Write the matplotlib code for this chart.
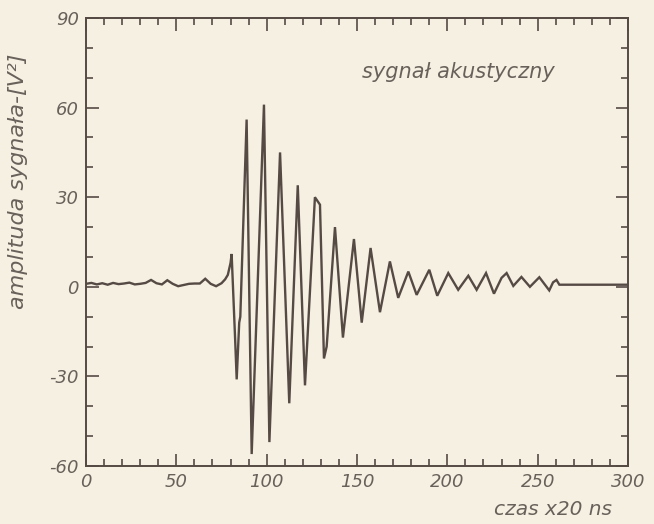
import matplotlib
matplotlib.use("Agg")
import matplotlib.pyplot as plt
import numpy as np

plt.rcParams['axes.unicode_minus'] = False

# odczyt z wykresu: czas (x20 ns) i amplituda [V^2]
czas = [0, 3, 6, 9, 12, 15, 18, 21, 24, 27, 30, 33, 36, 39, 42, 45, 48, 51, 54,
        57, 60, 63, 66, 69, 72, 75, 77, 78.5, 80, 80.6,
        82.5, 83.4, 84.8, 85.4, 88.9, 91.7, 98.5, 101.5, 107.4, 112.5, 117.2,
        121.2, 126.7, 129.5, 131.7, 133.2, 137.8, 142.2, 148.3, 152.6, 157.5,
        162.7, 168.2, 172.8, 178.4, 183, 190, 194.4, 200.5, 206, 211.6, 216.2,
        221.4, 225.8, 230, 232.8, 236.5, 241, 245.7, 250.9, 256.4, 258.5,
        260.4, 262, 300]
amplituda = [1, 1.3, 0.8, 1.2, 0.7, 1.3, 0.9, 1.1, 1.4, 0.8, 1.0, 1.3, 2.3, 1.2,
             0.8, 2.2, 1.0, 0.2, 0.6, 1.0, 1.1, 1.1, 2.7, 1.0, 0.2, 1.2, 2.5, 4,
             8, 11,
             -17, -31, -12, -10, 56, -56, 61, -52, 45, -39, 34,
             -33, 30, 27.5, -24, -20, 20, -17, 16, -12, 13,
             -8.5, 8.5, -3.7, 5.1, -2.7, 5.7, -3, 4.6, -1, 3.7, -1,
             4.6, -2.3, 3, 4.6, 0.3, 3.3, 0, 3.2, -1.2, 1.5,
             2.3, 0.7, 0.7]

xticks = [0, 50, 100, 150, 200, 250, 300]
yticks = [-60, -30, 0, 30, 60, 90]

tlo = '#f5f0e1'
kolor = '#564a45'
tekst = '#68615b'

fig = plt.figure(figsize=(6.54, 5.24), dpi=100, facecolor=tlo)
ax = fig.add_axes([0.1315, 0.1107, 0.8288, 0.8549])
ax.set_facecolor(tlo)

ax.plot(czas, amplituda, color=kolor, lw=1.7, solid_joinstyle='miter')

ax.set_xlim(0, 300)
ax.set_ylim(-60, 90)
ax.set_xticks(xticks)
ax.set_yticks(yticks)
ax.set_xticks(np.arange(0, 301, 10), minor=True)
ax.set_yticks(np.arange(-60, 91, 10), minor=True)
ax.tick_params(which='both', direction='in', top=True, right=True,
               color=kolor, width=1.2)
ax.tick_params(which='major', length=9, labelsize=13, labelcolor=tekst, pad=5)
ax.tick_params(which='minor', length=5)
for lab in ax.get_xticklabels() + ax.get_yticklabels():
    lab.set_fontstyle('italic')
for s in ax.spines.values():
    s.set_color(kolor)
    s.set_linewidth(1.4)

ax.text(153, 72, 'sygnał akustyczny', fontsize=15, style='italic',
        color=tekst, va='center')
fig.text(0.028, 0.654, 'amplituda sygnała-[V²]', rotation=90, fontsize=16,
         style='italic', color=tekst, ha='center', va='center')
fig.text(0.846, 0.027, 'czas x20 ns', fontsize=14.5, style='italic',
         color=tekst, ha='center', va='center')

fig.savefig('out.png', dpi=100, facecolor=tlo)
